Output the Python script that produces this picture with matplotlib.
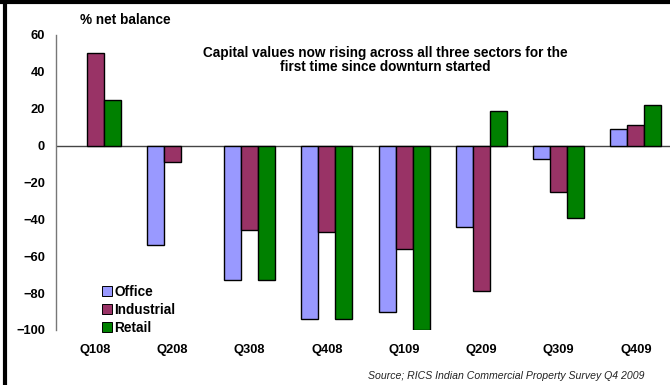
import numpy as np
import matplotlib
matplotlib.use("Agg")
from matplotlib import pyplot as plt
from matplotlib.lines import Line2D

quarters = ["Q108", "Q208", "Q308", "Q408", "Q109", "Q209", "Q309", "Q409"]
office = [0, -54, -73, -94, -90, -44, -7, 9]
industrial = [50, -9, -46, -47, -56, -79, -25, 11]
retail = [25, 0, -73, -94, -100, 19, -39, 22]

series = [("Office", office, "#9999FF"),
          ("Industrial", industrial, "#993366"),
          ("Retail", retail, "#008000")]

plt.rcParams['font.family'] = ['Liberation Sans', 'DejaVu Sans']

fig = plt.figure(figsize=(6.7, 3.85), dpi=100)
ax = fig.add_axes([56/670, 55/385, 1 - 56/670, 295/385])

x = np.arange(len(quarters))
w = 0.22
for i, (name, vals, col) in enumerate(series):
    v = np.array(vals, dtype=float)
    mask = v != 0
    ax.bar(x[mask] + (i - 1) * w, v[mask], width=w, color=col,
           edgecolor="black", linewidth=1.0, label=name, zorder=3)

ax.axhline(0, color="#444444", linewidth=1.0, zorder=2)
ax.set_xlim(-0.505, 7.44)
ax.set_ylim(-100, 60)
ax.set_yticks(range(-100, 61, 20))
ax.set_xticks(x)
ax.set_xticklabels(quarters)
ax.tick_params(length=0, labelsize=9.3)
ax.tick_params(axis="y", pad=8)
ax.tick_params(axis="x", pad=10)
for lab in ax.get_xticklabels() + ax.get_yticklabels():
    lab.set_fontweight("bold")
for s in ["top", "right", "bottom"]:
    ax.spines[s].set_visible(False)
ax.spines["left"].set_color("#777777")
ax.spines["left"].set_linewidth(1.0)

handles = [Line2D([], [], marker="s", linestyle="none", markersize=6.5,
                  markerfacecolor=c, markeredgecolor="black", markeredgewidth=0.7)
           for _, _, c in series]
leg = ax.legend(handles, [s[0] for s in series], loc="lower left",
                bbox_to_anchor=(0.056, -0.05), frameon=False, handletextpad=0.05,
                labelspacing=0.3, borderaxespad=0.3, handlelength=1.0,
                prop={"weight": "bold", "size": 9.8})

fig.text(80/670, 1 - 20/385, "% net balance", fontsize=9.8, fontweight="bold",
         ha="left", va="center")
fig.text(385/670, 1 - 60/385,
         "Capital values now rising across all three sectors for the\n"
         "first time since downturn started",
         fontsize=9.8, fontweight="bold", ha="center", va="center",
         linespacing=1.0)
fig.text(645/670, 1 - 376/385, "Source; RICS Indian Commercial Property Survey Q4 2009",
         fontsize=7.6, fontstyle="italic", color="#222222", ha="right", va="center")

# frame lines along the top and left of the figure
fig.add_artist(Line2D([0, 1], [1 - 1.5/385, 1 - 1.5/385], color="black", linewidth=3,
                      transform=fig.transFigure))
fig.add_artist(Line2D([5/670, 5/670], [0, 1], color="black", linewidth=3,
                      transform=fig.transFigure))

fig.savefig("out.png", dpi=100)
